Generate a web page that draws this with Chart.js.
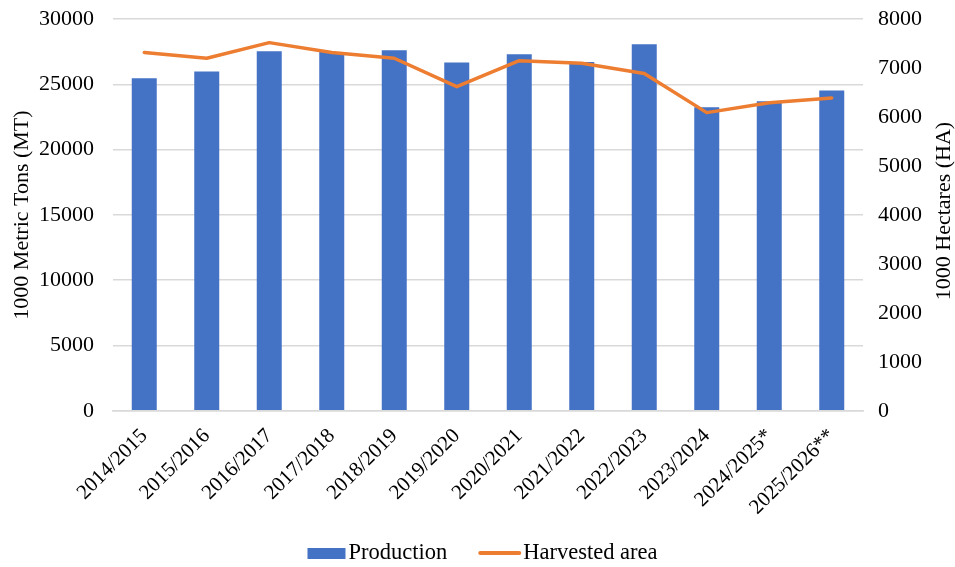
<!DOCTYPE html>
<html>
<head>
<meta charset="utf-8">
<script src="https://cdn.jsdelivr.net/npm/chart.js@4/dist/chart.umd.min.js"></script>
<style>
  html, body { margin: 0; padding: 0; background: #fff; }
  #wrap { width: 955px; height: 567px; }
</style>
</head>
<body>
<div id="wrap"><canvas id="cornChart"></canvas></div>
<script>
const seasons = ['2014/2015', '2015/2016', '2016/2017', '2017/2018', '2018/2019', '2019/2020',
                 '2020/2021', '2021/2022', '2022/2023', '2023/2024', '2024/2025*', '2025/2026**'];
const production = [25470, 25990, 27540, 27490, 27620, 26680, 27310, 26720, 28080, 23250, 23710, 24530];
const harvestedArea = [7320, 7200, 7520, 7320, 7200, 6620, 7150, 7100, 6890, 6090, 6290, 6390];
const leftTitle = '1000 Metric Tons (MT)';
const rightTitle = '1000 Hectares (HA)';

const FONT = "'Liberation Serif', 'Times New Roman', serif";
const BLUE = '#4472C4';
const ORANGE = '#ED7D31';
Chart.defaults.font.family = FONT;
Chart.defaults.font.size = 22;
Chart.defaults.color = '#000';

function drawVertical(ctx, text, x, y) {
  ctx.save();
  ctx.font = '22px ' + FONT;
  ctx.fillStyle = '#000';
  ctx.textAlign = 'center';
  ctx.textBaseline = 'middle';
  ctx.translate(x, y);
  ctx.rotate(-Math.PI / 2);
  ctx.fillText(text, 0, 0);
  ctx.restore();
}

// both axis titles read bottom-to-top, and the legend sits tight under the labels
const decorations = {
  id: 'decorations',
  afterDraw(chart) {
    const ctx = chart.ctx;
    drawVertical(ctx, leftTitle, 22, 215);
    drawVertical(ctx, rightTitle, 944, 211);

    const prod = chart.data.datasets[1], area = chart.data.datasets[0];
    const y = 553;
    ctx.save();
    ctx.font = '22.5px ' + FONT;
    ctx.fillStyle = '#000';
    ctx.textBaseline = 'middle';
    ctx.textAlign = 'left';
    const prodW = ctx.measureText(prod.label).width;
    const areaW = ctx.measureText(area.label).width;
    const total = 41 + prodW + 31 + 45 + areaW;
    let x = (chart.width - total) / 2 + 5;
    ctx.fillStyle = prod.backgroundColor;
    ctx.fillRect(x, y - 5, 38, 11);
    ctx.fillStyle = '#000';
    ctx.fillText(prod.label, x + 41, y);
    x += 41 + prodW + 31;
    ctx.strokeStyle = area.borderColor;
    ctx.lineWidth = 4;
    ctx.lineCap = 'round';
    ctx.beginPath();
    ctx.moveTo(x + 2, y);
    ctx.lineTo(x + 41, y);
    ctx.stroke();
    ctx.fillText(area.label, x + 45, y);
    ctx.restore();
  }
};

new Chart(document.getElementById('cornChart'), {
  type: 'bar',
  data: {
    labels: seasons,
    datasets: [
      {
        type: 'line',
        label: 'Harvested area',
        data: harvestedArea,
        yAxisID: 'yArea',
        borderColor: ORANGE,
        backgroundColor: ORANGE,
        borderWidth: 3.5,
        borderCapStyle: 'round',
        borderJoinStyle: 'round',
        pointRadius: 0,
        tension: 0,
        order: 0
      },
      {
        label: 'Production',
        data: production,
        yAxisID: 'yProd',
        backgroundColor: BLUE,
        borderWidth: 0,
        categoryPercentage: 1,
        barPercentage: 0.4,
        order: 1
      }
    ]
  },
  options: {
    responsive: true,
    maintainAspectRatio: false,
    animation: false,
    layout: { padding: { top: 0, left: 20, right: 18, bottom: 42 } },
    plugins: {
      tooltip: { enabled: false },
      legend: { display: false }
    },
    scales: {
      x: {
        grid: { display: false },
        border: { color: '#d9d9d9', width: 1.5 },
        ticks: { maxRotation: 45, minRotation: 45, padding: 5, font: { size: 21 } }
      },
      yProd: {
        position: 'left',
        min: 0, max: 30000,
        // tiny lineHeight keeps the top label from pushing the plot down
        ticks: { stepSize: 5000, padding: 19, font: { size: 22, lineHeight: 0.01 }, callback: v => String(v) },
        grid: { color: '#d9d9d9', lineWidth: 1.5, drawTicks: false },
        border: { display: false }
      },
      yArea: {
        position: 'right',
        min: 0, max: 8000,
        ticks: { stepSize: 1000, padding: 15, font: { size: 22, lineHeight: 0.01 }, callback: v => String(v) },
        grid: { display: false, drawTicks: false },
        border: { display: false }
      }
    }
  },
  plugins: [decorations]
});
</script>
</body>
</html>
